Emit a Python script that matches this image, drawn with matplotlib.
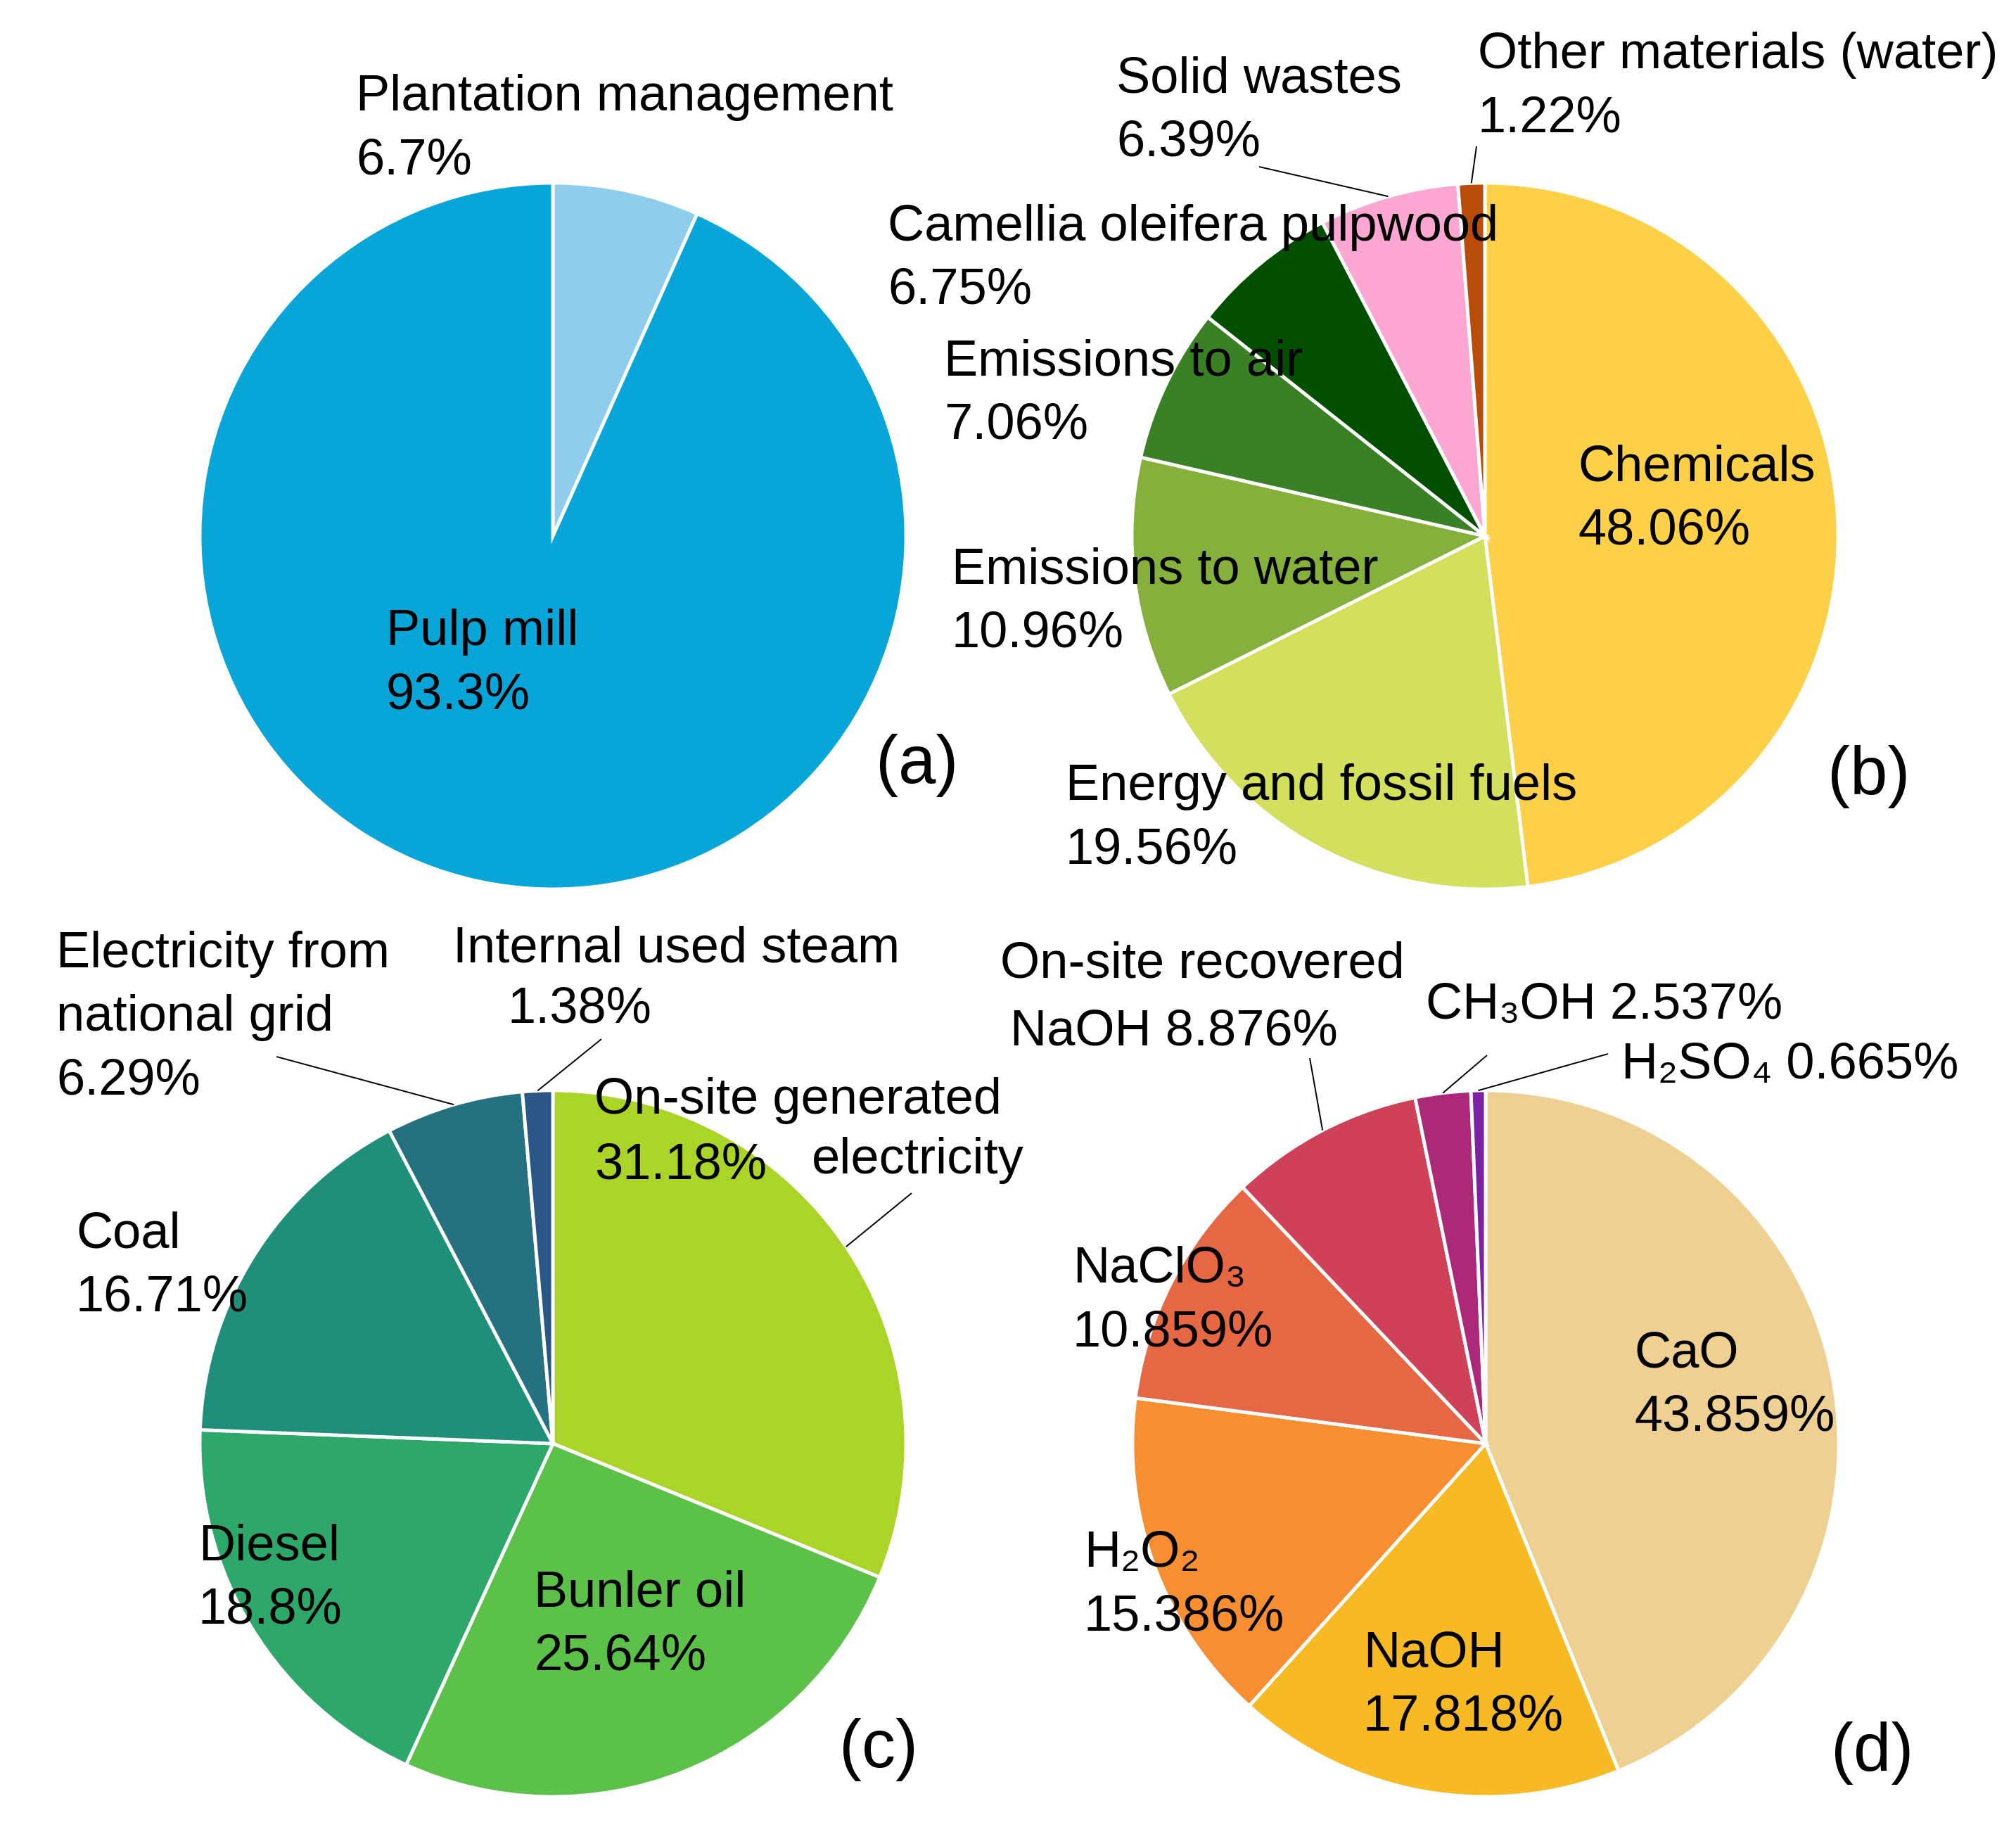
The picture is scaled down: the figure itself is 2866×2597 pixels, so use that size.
import numpy as np
import matplotlib
matplotlib.use('Agg')
import matplotlib.pyplot as plt

# ---- data ----
a_names = ['Plantation management', 'Pulp mill']
a_values = [6.7, 93.3]
a_colors = ['#8ECDEC', '#08A5D9']

b_names = ['Chemicals', 'Energy and fossil fuels', 'Emissions to water', 'Emissions to air',
           'Camellia oleifera pulpwood', 'Solid wastes', 'Other materials (water)']
b_values = [48.06, 19.56, 10.96, 7.06, 6.75, 6.39, 1.22]
b_colors = ['#FDD048', '#D2E05E', '#86B03C', '#3A8126', '#024F00', '#FBA7D1', '#B84D0B']

c_names = ['On-site generated electricity', 'Bunler oil', 'Diesel', 'Coal',
           'Electricity from national grid', 'Internal used steam']
c_values = [31.18, 25.64, 18.8, 16.71, 6.29, 1.38]
c_colors = ['#AAD427', '#5CC149', '#2DA86A', '#1F8F7A', '#26717F', '#2A5785']

d_names = ['CaO', 'NaOH', 'H₂O₂', 'NaClO₃', 'On-site recovered NaOH', 'CH₃OH', 'H₂SO₄']
d_values = [43.859, 17.818, 15.386, 10.859, 8.876, 2.537, 0.665]
d_colors = ['#EED092', '#F7BA25', '#F78F32', '#E56744', '#CE4159', '#AC2979', '#7C22A0']

W, H = 2866, 2597
R = 502
FONT = ['Liberation Sans', 'DejaVu Sans']
FS = 52
LH = 90

fig = plt.figure(figsize=(W / 100, H / 100), dpi=100)
ax = fig.add_axes([0, 0, 1, 1])


def pct(v):
    return f'{v}%'


def draw_pie(values, colors, cx, cy):
    wedges, _ = ax.pie(values, colors=colors, startangle=90, counterclock=False,
                       center=(cx, H - cy), radius=R,
                       wedgeprops=dict(edgecolor='white', linewidth=3.5))
    return wedges


def put(lines, x, y, size=FS):
    for i, s in enumerate(lines):
        ax.text(x, H - (y + i * LH), s, fontsize=size, ha='left', va='baseline',
                family=FONT, color='black')


def leader(wedge, x, y):
    # line from label point to the middle of the wedge's outer edge
    th = np.deg2rad((wedge.theta1 + wedge.theta2) / 2)
    cx, cy = wedge.center
    ex, ey = cx + wedge.r * np.cos(th), cy + wedge.r * np.sin(th)
    ax.plot([x, ex], [H - y, ey], color='black', lw=1.4, solid_capstyle='butt')


# (a)
wa = draw_pie(a_values, a_colors, 786, 762)
put([a_names[0], pct(a_values[0])], 506, 157)
put([a_names[1], pct(a_values[1])], 549, 917)
put(['(a)'], 1245, 1113, size=69)

# (b)
wb = draw_pie(b_values, b_colors, 2111, 762)
put([b_names[0], pct(b_values[0])], 2243, 683)
put([b_names[1], pct(b_values[1])], 1515, 1137)
put([b_names[2], pct(b_values[2])], 1353, 829)
put([b_names[3], pct(b_values[3])], 1342, 533)
put([b_names[4], pct(b_values[4])], 1262, 342)
put([b_names[5], pct(b_values[5])], 1587, 131)
put([b_names[6], pct(b_values[6])], 2101, 97)
leader(wb[5], 1790, 237)
leader(wb[6], 2099, 208)
put(['(b)'], 2598, 1129, size=69)

# (c)
wc = draw_pie(c_values, c_colors, 786, 2052)
put(['On-site generated'], 845, 1583)
put([pct(c_values[0])], 845, 1675)
put(['electricity'], 1154, 1668)
put([c_names[1], pct(c_values[1])], 759, 2283)
put([c_names[2], pct(c_values[2])], 282, 2217)
put([c_names[3], pct(c_values[3])], 108, 1773)
put(['Electricity from', 'national grid', pct(c_values[4])], 80, 1375)
put([c_names[5]], 644, 1367)
put([pct(c_values[5])], 722, 1454)
leader(wc[0], 1296, 1696)
leader(wc[4], 393, 1502)
leader(wc[5], 855, 1477)
put(['(c)'], 1193, 2512, size=69)

# (d)
wd = draw_pie(d_values, d_colors, 2112, 2052)
put([d_names[0], pct(d_values[0])], 2323, 1944)
put([d_names[1], pct(d_values[1])], 1938, 2369)
put([d_names[2], pct(d_values[2])], 1541, 2227)
put([d_names[3], pct(d_values[3])], 1525, 1823)
put(['On-site recovered'], 1422, 1390)
put(['NaOH ' + pct(d_values[4])], 1436, 1485)
put([d_names[5] + ' ' + pct(d_values[5])], 2027, 1448)
put([d_names[6] + ' ' + pct(d_values[6])], 2305, 1533)
leader(wd[4], 1862, 1504)
leader(wd[5], 2114, 1500)
leader(wd[6], 2286, 1498)
put(['(d)'], 2603, 2517, size=69)

ax.set_xlim(0, W)
ax.set_ylim(0, H)
ax.set_aspect('equal')
ax.axis('off')

fig.savefig('out.png', dpi=100, facecolor='white')
